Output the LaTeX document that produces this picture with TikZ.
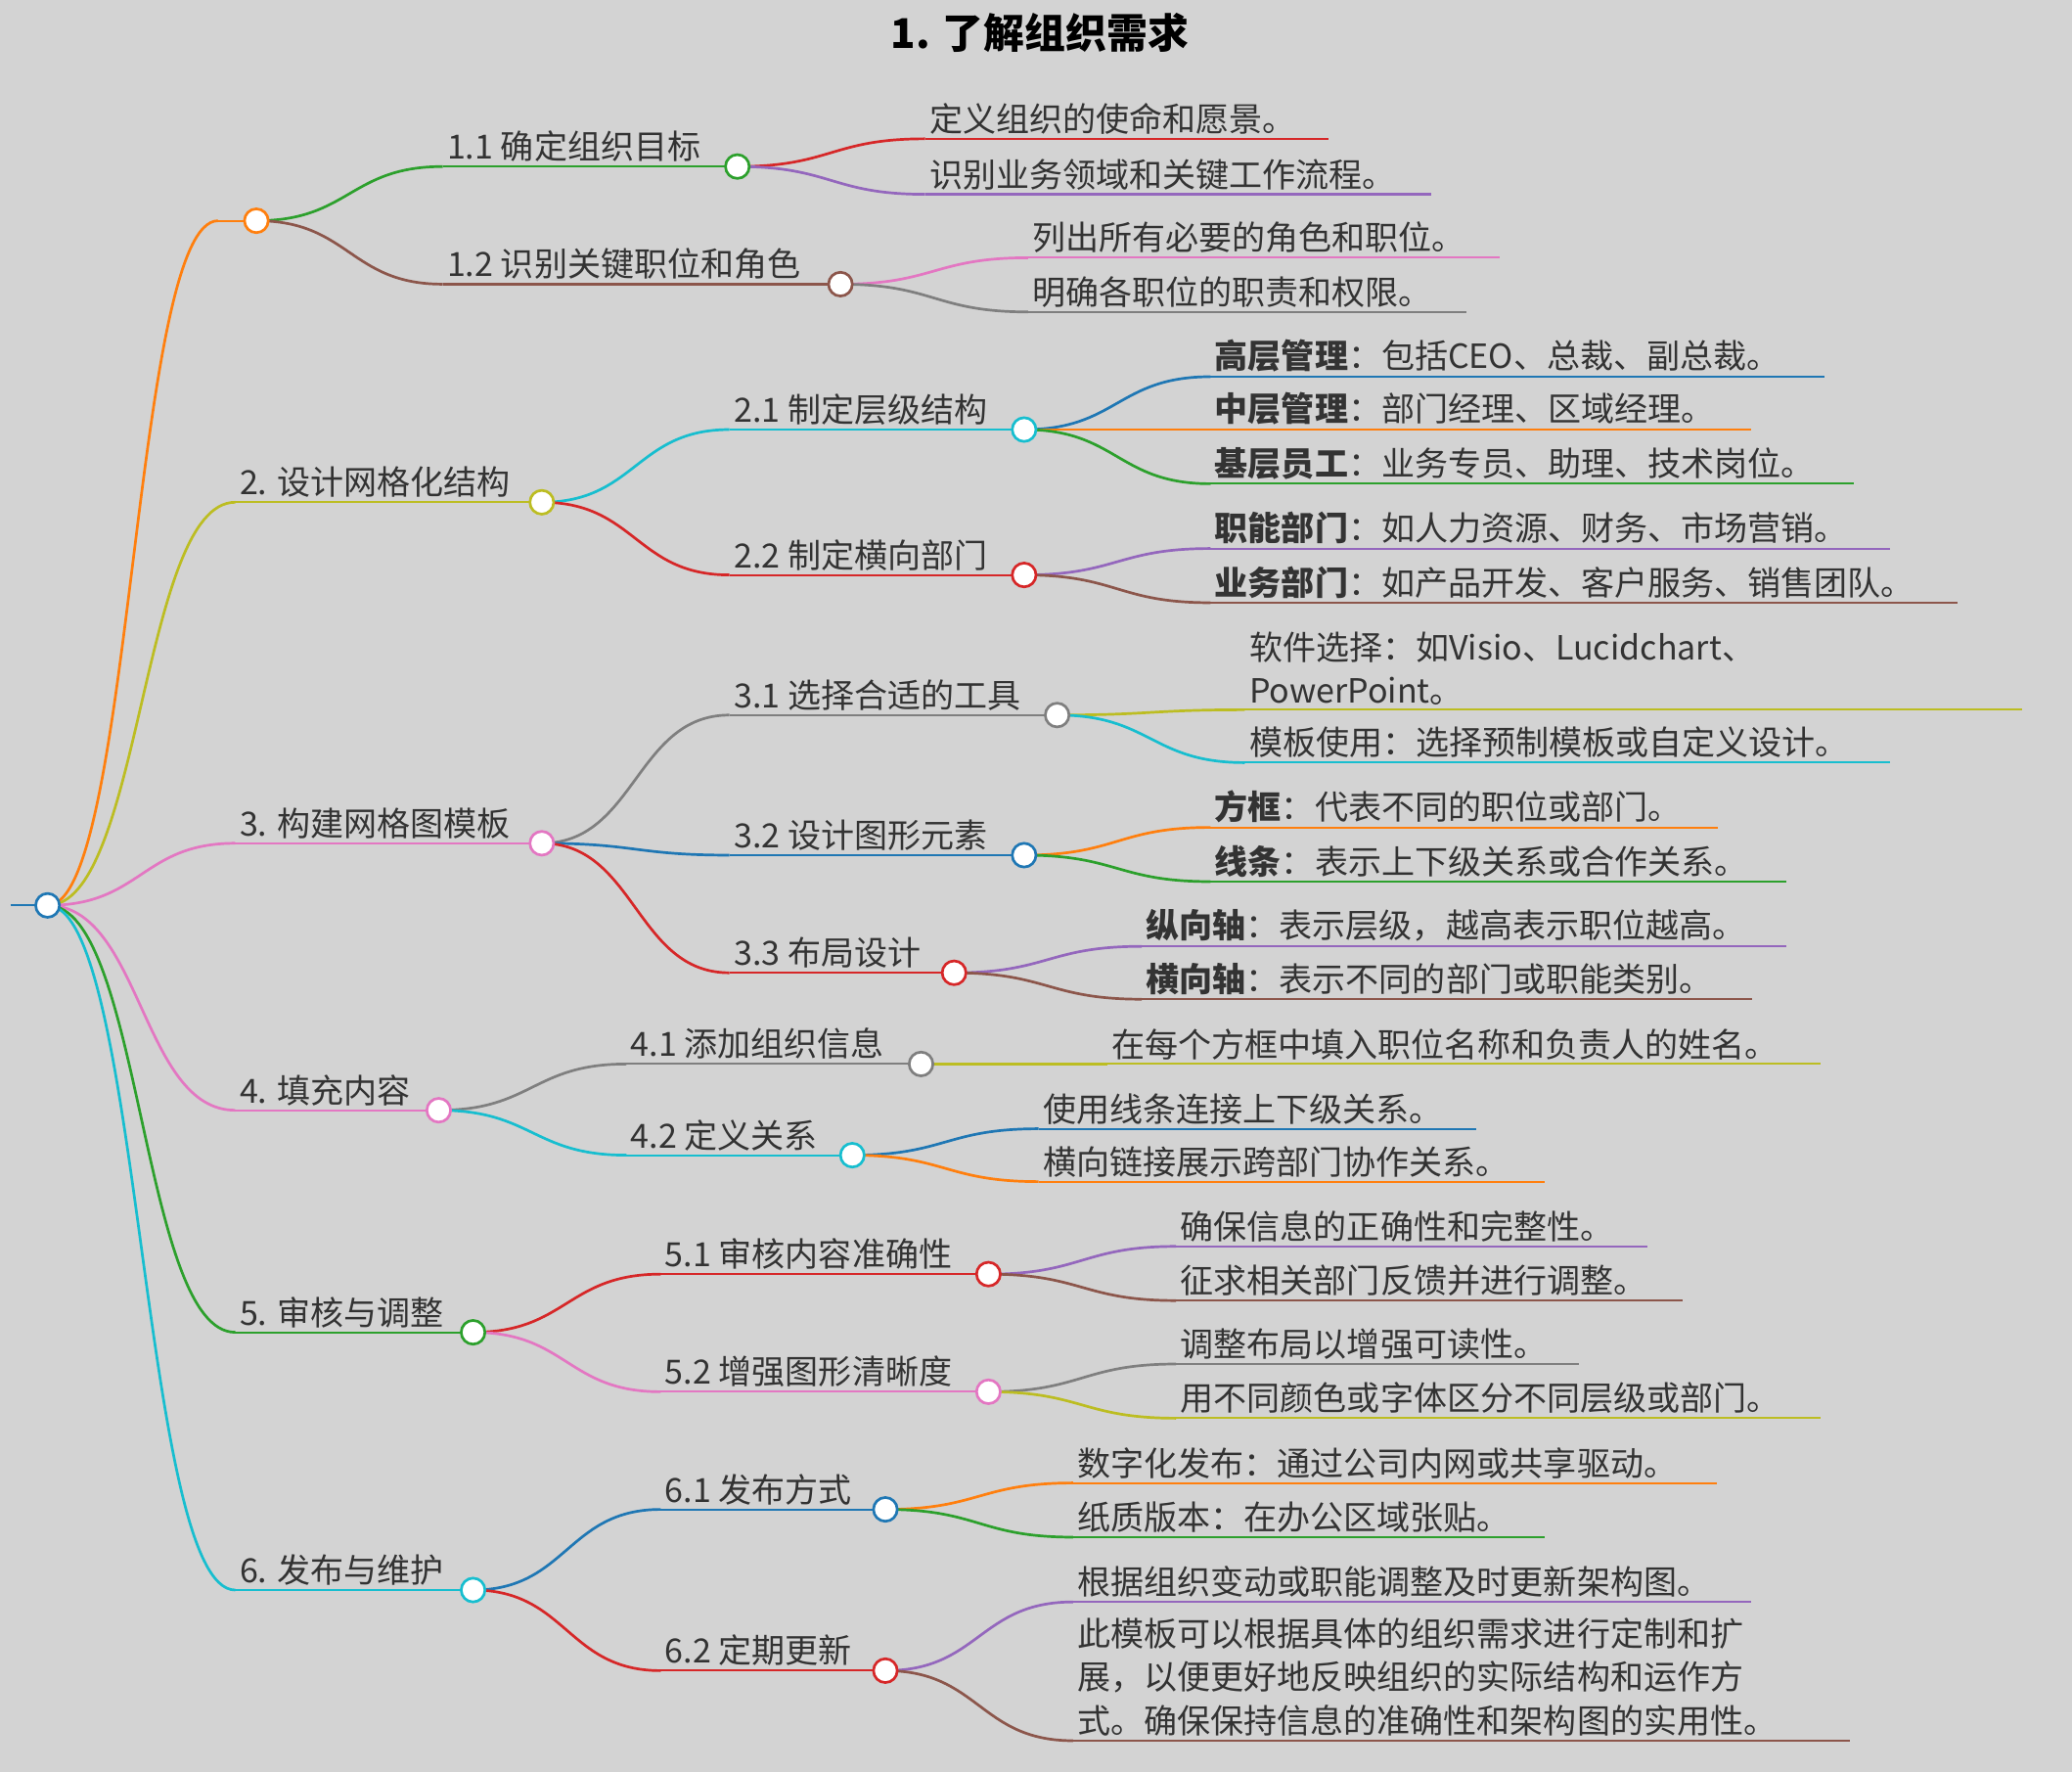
\documentclass[tikz,border=0pt]{standalone}
\usepackage{fontspec}
\setmainfont{Noto Sans CJK SC}
\usetikzlibrary{calc}
\pgfdeclarelayer{fg}\pgfsetlayers{main,fg}
\definecolor{cB}{HTML}{1F77B4}\definecolor{cO}{HTML}{FF7F0E}\definecolor{cG}{HTML}{2CA02C}
\definecolor{cR}{HTML}{D62728}\definecolor{cP}{HTML}{9467BD}\definecolor{cN}{HTML}{8C564B}
\definecolor{cK}{HTML}{E377C2}\definecolor{cY}{HTML}{7F7F7F}\definecolor{cL}{HTML}{BCBD22}
\definecolor{cC}{HTML}{17BECF}\definecolor{bg}{HTML}{D3D3D3}\definecolor{tx}{HTML}{333333}
\tikzset{edge/.style={line width=1pt},uline/.style={line width=0.8pt},
 lab/.style={anchor=south west,inner sep=0pt,font=\fontsize{12.6}{16.5}\selectfont,text=tx,align=left},
 dot/.style={circle,draw=#1,fill=white,line width=1pt,inner sep=0pt,minimum size=9pt}}
% name parent color x1 x2 y text
\newcommand\mmnode[7]{%
 \coordinate (#1-s) at (#4,#6);\coordinate (#1-e) at (#5,#6);
 \coordinate (#1-m) at ($(#2)!0.5!(#1-s)$);
 \draw[edge,#3] (#2) .. controls (#1-m |- #2) and (#1-m |- #1-s) .. (#1-s);
 \draw[uline,#3] (#1-s) -- (#1-e);
 \node[lab] (#1) at ([xshift=1.5pt,yshift=1.5pt]#1-s) {#7};}
\newcommand\mmdot[2]{\begin{pgfonlayer}{fg}\node[dot=#2] at (#1-e) {};\end{pgfonlayer}}
\begin{document}
\begin{tikzpicture}[x=0.5pt,y=-0.5pt]
\fill[bg] (0,0) rectangle (1568,1341);
\useasboundingbox (0,0) rectangle (1568,1341);
\node[font=\fontsize{15.5}{18}\selectfont\bfseries,text=black] (title) at (787,25) {1. 了解组织需求};
\coordinate (root-e) at (36,685);
\coordinate (root-l) at (8,685);
\draw[uline,cB] (root-l) -- (root-e);
% 1
\mmnode{a}{root-e}{cO}{165}{194}{167}{}
\mmnode{a1}{a-e}{cG}{335}{558}{126}{1.1 确定组织目标}
\mmnode{a11}{a1-e}{cR}{700}{1005}{105}{定义组织的使命和愿景。}
\mmnode{a12}{a1-e}{cP}{700}{1083}{147}{识别业务领域和关键工作流程。}
\mmnode{a2}{a-e}{cN}{335}{636}{215}{1.2 识别关键职位和角色}
\mmnode{a21}{a2-e}{cK}{778}{1135}{195}{列出所有必要的角色和职位。}
\mmnode{a22}{a2-e}{cY}{778}{1110}{236}{明确各职位的职责和权限。}
% 2
\mmnode{b}{root-e}{cL}{178}{410}{380}{2. 设计网格化结构}
\mmnode{b1}{b-e}{cC}{552}{775}{325}{2.1 制定层级结构}
\mmnode{b11}{b1-e}{cB}{916}{1381}{285}{\textbf{高层管理}：包括CEO、总裁、副总裁。}
\mmnode{b12}{b1-e}{cO}{916}{1325}{325}{\textbf{中层管理}：部门经理、区域经理。}
\mmnode{b13}{b1-e}{cG}{916}{1403}{366}{\textbf{基层员工}：业务专员、助理、技术岗位。}
\mmnode{b2}{b-e}{cR}{552}{775}{435}{2.2 制定横向部门}
\mmnode{b21}{b2-e}{cP}{916}{1430}{415}{\textbf{职能部门}：如人力资源、财务、市场营销。}
\mmnode{b22}{b2-e}{cN}{916}{1481}{456}{\textbf{业务部门}：如产品开发、客户服务、销售团队。}
% 3
\mmnode{c}{root-e}{cK}{178}{410}{638}{3. 构建网格图模板}
\mmnode{c1}{c-e}{cY}{552}{800}{541}{3.1 选择合适的工具}
\mmnode{c11}{c1-e}{cL}{942}{1530}{537}{软件选择：如Visio、Lucidchart、\\PowerPoint。}
\mmnode{c12}{c1-e}{cC}{942}{1430}{577}{模板使用：选择预制模板或自定义设计。}
\mmnode{c2}{c-e}{cB}{552}{775}{647}{3.2 设计图形元素}
\mmnode{c21}{c2-e}{cO}{916}{1300}{626}{\textbf{方框}：代表不同的职位或部门。}
\mmnode{c22}{c2-e}{cG}{916}{1352}{667}{\textbf{线条}：表示上下级关系或合作关系。}
\mmnode{c3}{c-e}{cR}{552}{722}{736}{3.3 布局设计}
\mmnode{c31}{c3-e}{cP}{864}{1352}{716}{\textbf{纵向轴}：表示层级，越高表示职位越高。}
\mmnode{c32}{c3-e}{cN}{864}{1326}{756}{\textbf{横向轴}：表示不同的部门或职能类别。}
% 4
\mmnode{d}{root-e}{cK}{178}{332}{840}{4. 填充内容}
\mmnode{d1}{d-e}{cY}{474}{697}{805}{4.1 添加组织信息}
\mmnode{d11}{d1-e}{cL}{838}{1378}{805}{在每个方框中填入职位名称和负责人的姓名。}
\mmnode{d2}{d-e}{cC}{474}{645}{874}{4.2 定义关系}
\mmnode{d21}{d2-e}{cB}{786}{1117}{854}{使用线条连接上下级关系。}
\mmnode{d22}{d2-e}{cO}{786}{1169}{894}{横向链接展示跨部门协作关系。}
% 5
\mmnode{e}{root-e}{cG}{178}{358}{1008}{5. 审核与调整}
\mmnode{e1}{e-e}{cR}{500}{748}{964}{5.1 审核内容准确性}
\mmnode{e11}{e1-e}{cP}{890}{1247}{943}{确保信息的正确性和完整性。}
\mmnode{e12}{e1-e}{cN}{890}{1273}{984}{征求相关部门反馈并进行调整。}
\mmnode{e2}{e-e}{cK}{500}{748}{1053}{5.2 增强图形清晰度}
\mmnode{e21}{e2-e}{cY}{890}{1195}{1032}{调整布局以增强可读性。}
\mmnode{e22}{e2-e}{cL}{890}{1378}{1073}{用不同颜色或字体区分不同层级或部门。}
% 6
\mmnode{f}{root-e}{cC}{178}{358}{1203}{6. 发布与维护}
\mmnode{f1}{f-e}{cB}{500}{670}{1142}{6.1 发布方式}
\mmnode{f11}{f1-e}{cO}{812}{1299}{1122}{数字化发布：通过公司内网或共享驱动。}
\mmnode{f12}{f1-e}{cG}{812}{1169}{1163}{纸质版本：在办公区域张贴。}
\mmnode{f2}{f-e}{cR}{500}{670}{1264}{6.2 定期更新}
\mmnode{f21}{f2-e}{cP}{812}{1325}{1212}{根据组织变动或职能调整及时更新架构图。}
\mmnode{f22}{f2-e}{cN}{812}{1400}{1317}{此模板可以根据具体的组织需求进行定制和扩\\展，以便更好地反映组织的实际结构和运作方\\式。确保保持信息的准确性和架构图的实用性。}
% dots
\mmdot{root}{cB}\mmdot{a}{cO}\mmdot{a1}{cG}\mmdot{a2}{cN}
\mmdot{b}{cL}\mmdot{b1}{cC}\mmdot{b2}{cR}
\mmdot{c}{cK}\mmdot{c1}{cY}\mmdot{c2}{cB}\mmdot{c3}{cR}
\mmdot{d}{cK}\mmdot{d1}{cY}\mmdot{d2}{cC}
\mmdot{e}{cG}\mmdot{e1}{cR}\mmdot{e2}{cK}
\mmdot{f}{cC}\mmdot{f1}{cB}\mmdot{f2}{cR}
\end{tikzpicture}
\end{document}
